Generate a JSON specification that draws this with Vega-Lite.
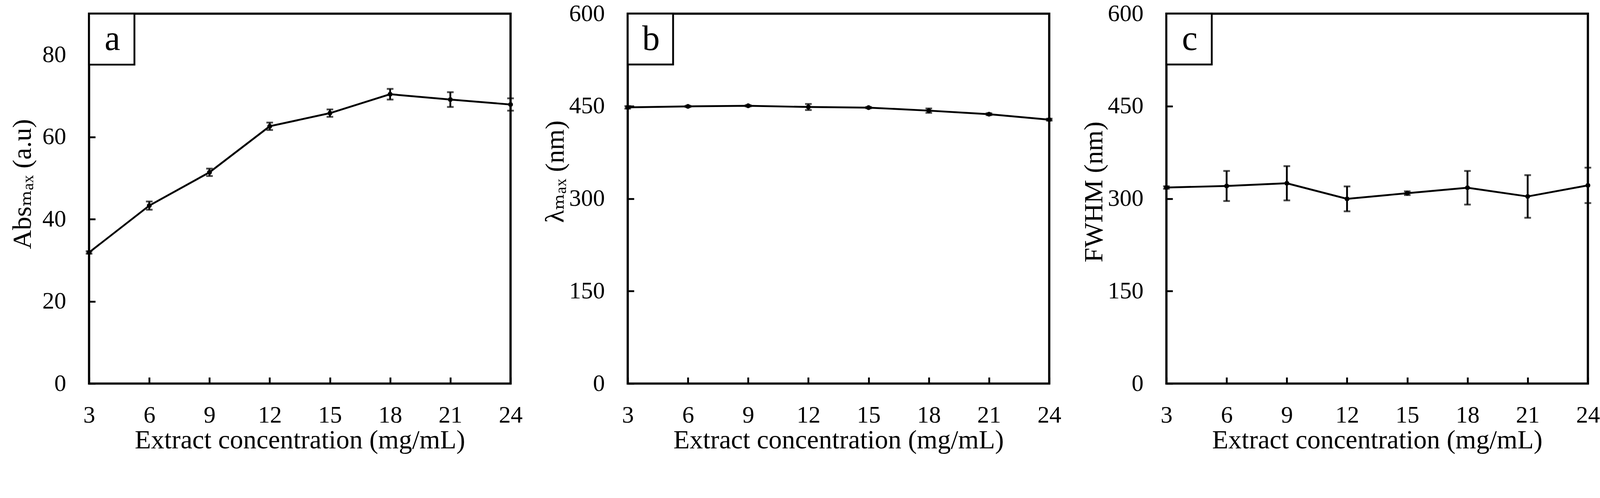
{
  "$schema": "https://vega.github.io/schema/vega-lite/v6.json",
  "padding": {"left": 21, "top": 1, "right": 40, "bottom": 40},
  "background": "white",
  "datasets": {
    "pts": [
      {"panel": "a", "conc": 3, "value": 31.9, "err": 0.3},
      {"panel": "a", "conc": 6, "value": 43.3, "err": 1.0},
      {"panel": "a", "conc": 9, "value": 51.4, "err": 0.9},
      {"panel": "a", "conc": 12, "value": 62.6, "err": 0.9},
      {"panel": "a", "conc": 15, "value": 65.8, "err": 0.9},
      {"panel": "a", "conc": 18, "value": 70.4, "err": 1.3},
      {"panel": "a", "conc": 21, "value": 69.1, "err": 1.8},
      {"panel": "a", "conc": 24, "value": 67.9, "err": 1.5},
      {"panel": "b", "conc": 3, "value": 448.0, "err": 2},
      {"panel": "b", "conc": 6, "value": 449.6, "err": 1},
      {"panel": "b", "conc": 9, "value": 450.6, "err": 1},
      {"panel": "b", "conc": 12, "value": 448.6, "err": 4.9},
      {"panel": "b", "conc": 15, "value": 447.6, "err": 1},
      {"panel": "b", "conc": 18, "value": 442.7, "err": 3.5},
      {"panel": "b", "conc": 21, "value": 436.9, "err": 1.5},
      {"panel": "b", "conc": 24, "value": 428.1, "err": 1.5},
      {"panel": "c", "conc": 3, "value": 318.0, "err": 2},
      {"panel": "c", "conc": 6, "value": 320.5, "err": 24.4},
      {"panel": "c", "conc": 9, "value": 324.9, "err": 27.8},
      {"panel": "c", "conc": 12, "value": 299.6, "err": 20.2},
      {"panel": "c", "conc": 15, "value": 308.8, "err": 3},
      {"panel": "c", "conc": 18, "value": 317.6, "err": 27.3},
      {"panel": "c", "conc": 21, "value": 303.5, "err": 34.6},
      {"panel": "c", "conc": 24, "value": 321.5, "err": 28.7}
    ],
    "tags": [
      {"panel": "a", "tag": "a"},
      {"panel": "b", "tag": "b"},
      {"panel": "c", "tag": "c"}
    ]
  },
  "bounds": "flush",
  "spacing": 300,
  "hconcat": [
    {
      "width": 1079,
      "height": 947,
      "layer": [
        {
          "data": {"name": "pts"},
          "transform": [{"filter": "datum.panel === 'a'"}],
          "mark": {"type": "errorbar", "ticks": {"size": 17, "thickness": 4.7, "color": "black"}, "rule": {"strokeWidth": 4.7, "color": "black"}},
          "encoding": {
            "x": {
              "field": "conc", "type": "quantitative",
              "scale": {"domain": [3, 24], "nice": false, "zero": false},
              "axis": {"values": [3, 6, 9, 12, 15, 18, 21, 24], "title": "Extract concentration (mg/mL)"}
            },
            "y": {
              "field": "value", "type": "quantitative",
              "scale": {"domain": [0, 90], "nice": false},
              "axis": {"values": [0, 20, 40, 60, 80], "title": "Absₘₐₓ (a.u)", "titlePadding": 16, "titleY": 436}
            },
            "yError": {"field": "err"}
          }
        },
        {
          "data": {"name": "pts"},
          "transform": [{"filter": "datum.panel === 'a'"}],
          "mark": {"type": "line", "color": "black", "strokeWidth": 4.7, "point": {"filled": true, "color": "black", "size": 153}},
          "encoding": {
            "x": {"field": "conc", "type": "quantitative"},
            "y": {"field": "value", "type": "quantitative"}
          }
        },
        {
          "data": {"name": "tags"},
          "transform": [{"filter": "datum.panel === 'a'"}],
          "mark": {"type": "rect", "fill": "white", "stroke": "black", "strokeWidth": 4.7},
          "encoding": {"x": {"datum": 3}, "x2": {"datum": 5.26}, "y": {"datum": 90}, "y2": {"datum": 77.6}}
        },
        {
          "data": {"name": "tags"},
          "transform": [{"filter": "datum.panel === 'a'"}],
          "mark": {"type": "text", "fontSize": 90, "align": "center", "baseline": "alphabetic", "color": "black"},
          "encoding": {"x": {"datum": 4.16}, "y": {"datum": 81.2}, "text": {"field": "tag"}}
        }
      ]
    },
    {
      "width": 1079,
      "height": 947,
      "layer": [
        {
          "data": {"name": "pts"},
          "transform": [{"filter": "datum.panel === 'b'"}],
          "mark": {"type": "errorbar", "ticks": {"size": 17, "thickness": 4.7, "color": "black"}, "rule": {"strokeWidth": 4.7, "color": "black"}},
          "encoding": {
            "x": {
              "field": "conc", "type": "quantitative",
              "scale": {"domain": [3, 24], "nice": false, "zero": false},
              "axis": {"values": [3, 6, 9, 12, 15, 18, 21, 24], "title": "Extract concentration (mg/mL)"}
            },
            "y": {
              "field": "value", "type": "quantitative",
              "scale": {"domain": [0, 600], "nice": false},
              "axis": {"values": [0, 150, 300, 450, 600], "title": "λₘₐₓ (nm)", "titlePadding": 0, "titleY": 404}
            },
            "yError": {"field": "err"}
          }
        },
        {
          "data": {"name": "pts"},
          "transform": [{"filter": "datum.panel === 'b'"}],
          "mark": {"type": "line", "color": "black", "strokeWidth": 4.7, "point": {"filled": true, "color": "black", "size": 153}},
          "encoding": {
            "x": {"field": "conc", "type": "quantitative"},
            "y": {"field": "value", "type": "quantitative"}
          }
        },
        {
          "data": {"name": "tags"},
          "transform": [{"filter": "datum.panel === 'b'"}],
          "mark": {"type": "rect", "fill": "white", "stroke": "black", "strokeWidth": 4.7},
          "encoding": {"x": {"datum": 3}, "x2": {"datum": 5.26}, "y": {"datum": 600}, "y2": {"datum": 517.5}}
        },
        {
          "data": {"name": "tags"},
          "transform": [{"filter": "datum.panel === 'b'"}],
          "mark": {"type": "text", "fontSize": 90, "align": "center", "baseline": "alphabetic", "color": "black"},
          "encoding": {"x": {"datum": 4.16}, "y": {"datum": 541.3}, "text": {"field": "tag"}}
        }
      ]
    },
    {
      "width": 1079,
      "height": 947,
      "layer": [
        {
          "data": {"name": "pts"},
          "transform": [{"filter": "datum.panel === 'c'"}],
          "mark": {"type": "errorbar", "ticks": {"size": 17, "thickness": 4.7, "color": "black"}, "rule": {"strokeWidth": 4.7, "color": "black"}},
          "encoding": {
            "x": {
              "field": "conc", "type": "quantitative",
              "scale": {"domain": [3, 24], "nice": false, "zero": false},
              "axis": {"values": [3, 6, 9, 12, 15, 18, 21, 24], "title": "Extract concentration (mg/mL)"}
            },
            "y": {
              "field": "value", "type": "quantitative",
              "scale": {"domain": [0, 600], "nice": false},
              "axis": {"values": [0, 150, 300, 450, 600], "title": "FWHM (nm)", "titlePadding": 0, "titleY": 456}
            },
            "yError": {"field": "err"}
          }
        },
        {
          "data": {"name": "pts"},
          "transform": [{"filter": "datum.panel === 'c'"}],
          "mark": {"type": "line", "color": "black", "strokeWidth": 4.7, "point": {"filled": true, "color": "black", "size": 153}},
          "encoding": {
            "x": {"field": "conc", "type": "quantitative"},
            "y": {"field": "value", "type": "quantitative"}
          }
        },
        {
          "data": {"name": "tags"},
          "transform": [{"filter": "datum.panel === 'c'"}],
          "mark": {"type": "rect", "fill": "white", "stroke": "black", "strokeWidth": 4.7},
          "encoding": {"x": {"datum": 3}, "x2": {"datum": 5.26}, "y": {"datum": 600}, "y2": {"datum": 517.5}}
        },
        {
          "data": {"name": "tags"},
          "transform": [{"filter": "datum.panel === 'c'"}],
          "mark": {"type": "text", "fontSize": 90, "align": "center", "baseline": "alphabetic", "color": "black"},
          "encoding": {"x": {"datum": 4.16}, "y": {"datum": 541.3}, "text": {"field": "tag"}}
        }
      ]
    }
  ],
  "config": {
    "font": "Liberation Serif, DejaVu Serif",
    "view": {"stroke": "black", "strokeWidth": 5.7},
    "axis": {
      "grid": false,
      "domain": false,
      "ticks": true,
      "offset": -16,
      "tickColor": "black",
      "tickWidth": 4.7,
      "tickSize": 16,
      "labelFont": "Liberation Serif, DejaVu Serif",
      "labelFontSize": 61,
      "labelColor": "black",
      "labelFlush": false,
      "labelOverlap": false,
      "titleFont": "Liberation Serif, DejaVu Serif",
      "titleFontSize": 68,
      "titleFontWeight": "normal",
      "titleColor": "black"
    },
    "axisX": {"labelPadding": 51, "titlePadding": 0},
    "axisY": {"labelPadding": 59}
  }
}
